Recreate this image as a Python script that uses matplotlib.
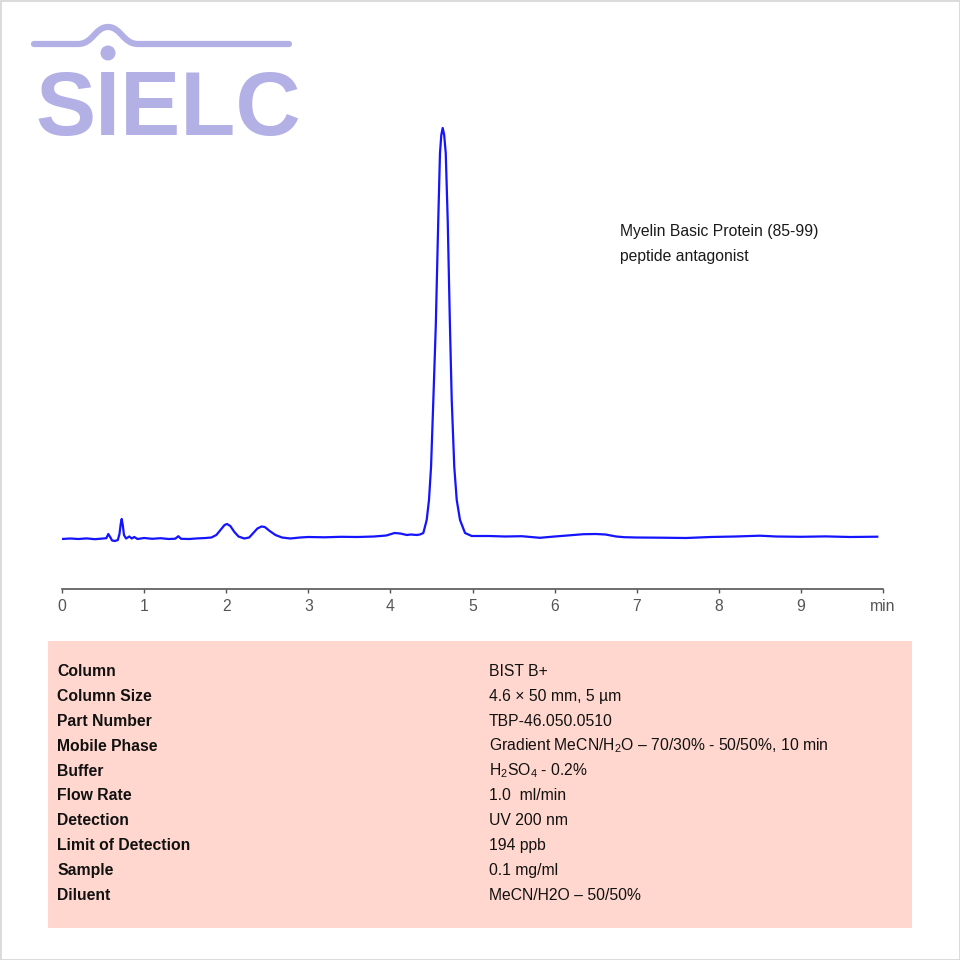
import matplotlib
matplotlib.use("Agg")
import matplotlib.pyplot as plt
from matplotlib.patches import Rectangle, Circle, PathPatch
from matplotlib.path import Path

plt.rcParams["font.family"] = ["Liberation Sans", "DejaVu Sans"]
plt.rcParams["mathtext.fontset"] = "custom"
plt.rcParams["mathtext.rm"] = "Liberation Sans"
plt.rcParams["mathtext.it"] = "Liberation Sans:italic"
plt.rcParams["mathtext.bf"] = "Liberation Sans:bold"

# chromatogram trace (time in min, signal in arbitrary units)
time_min = [
    0.00, 0.10, 0.20, 0.30, 0.40, 0.50, 0.54, 0.564, 0.59, 0.61, 0.645, 0.68,
    0.70, 0.715, 0.727, 0.74, 0.755, 0.78, 0.82, 0.85, 0.88, 0.92, 1.00, 1.10,
    1.20, 1.30, 1.38, 1.417, 1.45, 1.55, 1.65, 1.75, 1.82, 1.88, 1.93, 1.98,
    2.01, 2.05, 2.10, 2.15, 2.22, 2.28, 2.33, 2.38, 2.43, 2.47, 2.53, 2.60,
    2.68, 2.78, 2.90, 3.00, 3.20, 3.40, 3.60, 3.80, 3.95, 4.05, 4.12, 4.20,
    4.25, 4.32, 4.36, 4.401, 4.442, 4.470, 4.495, 4.523, 4.553, 4.583, 4.604,
    4.620, 4.637, 4.655, 4.674, 4.698, 4.725, 4.747, 4.778, 4.808, 4.848,
    4.909, 4.99, 5.20, 5.40, 5.60, 5.82, 6.00, 6.20, 6.35, 6.50, 6.62, 6.75,
    6.85, 7.00, 7.30, 7.60, 7.90, 8.20, 8.50, 8.70, 9.00, 9.30, 9.60, 9.93,
]
signal = [
    1.0, 1.5, 1.0, 1.6, 0.8, 1.5, 1.8, 6.0, 2.5, -0.5, -1.0, 0.0,
    6.0, 16.0, 21.0, 15.0, 5.0, 1.5, 3.5, 1.5, 3.0, 1.0, 2.0, 1.2,
    1.8, 1.0, 1.3, 3.8, 1.2, 1.0, 1.6, 2.0, 2.5, 5.0, 10.0, 15.0,
    16.0, 14.0, 8.0, 3.5, 1.5, 2.5, 7.0, 11.5, 13.5, 13.0, 9.0, 5.0,
    2.5, 1.5, 2.5, 3.0, 2.7, 3.2, 3.0, 3.5, 4.5, 7.0, 6.5, 5.0,
    5.5, 5.0, 5.5, 7.0, 20.0, 40.0, 73.0, 140.0, 215.0, 320.0, 387.0,
    405.0, 412.0, 405.0, 387.0, 320.0, 215.0, 140.0, 73.0, 40.0, 20.0,
    7.0, 4.0, 4.0, 3.5, 3.8, 2.2, 3.5, 4.8, 5.8, 6.0, 5.5, 3.5,
    2.8, 2.5, 2.3, 2.0, 3.0, 3.5, 4.3, 3.5, 3.2, 3.6, 3.0, 3.3,
]
tick_values = [0, 1, 2, 3, 4, 5, 6, 7, 8, 9, 10]
tick_labels = ["0", "1", "2", "3", "4", "5", "6", "7", "8", "9", "min"]

compound = ["Myelin Basic Protein (85-99)", "peptide antagonist"]
param_names = ["Column", "Column Size", "Part Number", "Mobile Phase", "Buffer",
               "Flow Rate", "Detection", "Limit of Detection", "Sample", "Diluent"]
param_values = ["BIST B+", "4.6 × 50 mm, 5 µm", "TBP-46.050.0510",
                "Gradient MeCN/H$_2$O – 70/30% - 50/50%, 10 min",
                "H$_2$SO$_4$ - 0.2%", "1.0  ml/min", "UV 200 nm", "194 ppb",
                "0.1 mg/ml", "MeCN/H2O – 50/50%"]

W = H = 960
fig = plt.figure(figsize=(9.6, 9.6), dpi=100)
fig.patch.set_facecolor("white")

# overlay in pixel coordinates for the logo, border and parameter table
ov = fig.add_axes([0, 0, 1, 1])
ov.set_xlim(0, W)
ov.set_ylim(H, 0)
ov.axis("off")
ov.add_patch(Rectangle((0.5, 0.5), W - 1, H - 1, fill=False, ec="#d4d4d4", lw=1.2))

logo_c = "#b3b0e6"
verts = [(34, 44), (78, 44), (93, 44), (95, 27), (108, 27),
         (121, 27), (123, 44), (138, 44), (289, 44)]
codes = [Path.MOVETO, Path.LINETO, Path.CURVE4, Path.CURVE4, Path.CURVE4,
         Path.CURVE4, Path.CURVE4, Path.CURVE4, Path.LINETO]
ov.add_patch(PathPatch(Path(verts, codes), fill=False, ec=logo_c, lw=4.5,
                       capstyle="round"))
ov.add_patch(Circle((108, 53), 7.5, color=logo_c, lw=0))
ov.text(35, 135, "SIELC", ha="left", va="baseline", fontsize=65,
        fontweight="bold", color=logo_c)

ov.add_patch(Rectangle((48, 641), 864, 287, fc="#ffd7ce", ec="none"))
for i, (nm, val) in enumerate(zip(param_names, param_values)):
    yb = 676 + 24.9 * i
    ov.text(57, yb, nm, ha="left", va="baseline", fontsize=11.3,
            fontweight="bold", color="#111111")
    ov.text(489, yb, val, ha="left", va="baseline", fontsize=11.3,
            color="#111111")

for i, line in enumerate(compound):
    ov.text(620, 236 + 24.5 * i, line, ha="left", va="baseline", fontsize=11.3,
            color="#1a1a1a")

# chromatogram axes
ax = fig.add_axes([62 / W, (H - 589) / H, 821 / W, (589 - 110) / H])
ax.patch.set_alpha(0)
ax.plot(time_min, signal, color="#1414ff", lw=1.6, solid_joinstyle="round")
ax.set_xlim(0, 10)
ax.set_ylim(-49, 430)
for side in ("top", "right", "left"):
    ax.spines[side].set_visible(False)
ax.spines["bottom"].set_color("#555555")
ax.spines["bottom"].set_linewidth(1.2)
ax.set_yticks([])
ax.set_xticks(tick_values)
ax.set_xticklabels(tick_labels)
ax.tick_params(axis="x", direction="out", length=3, width=1, color="#555555",
               labelcolor="#555555", labelsize=11.3, pad=4)

fig.savefig("out.png", dpi=100)
